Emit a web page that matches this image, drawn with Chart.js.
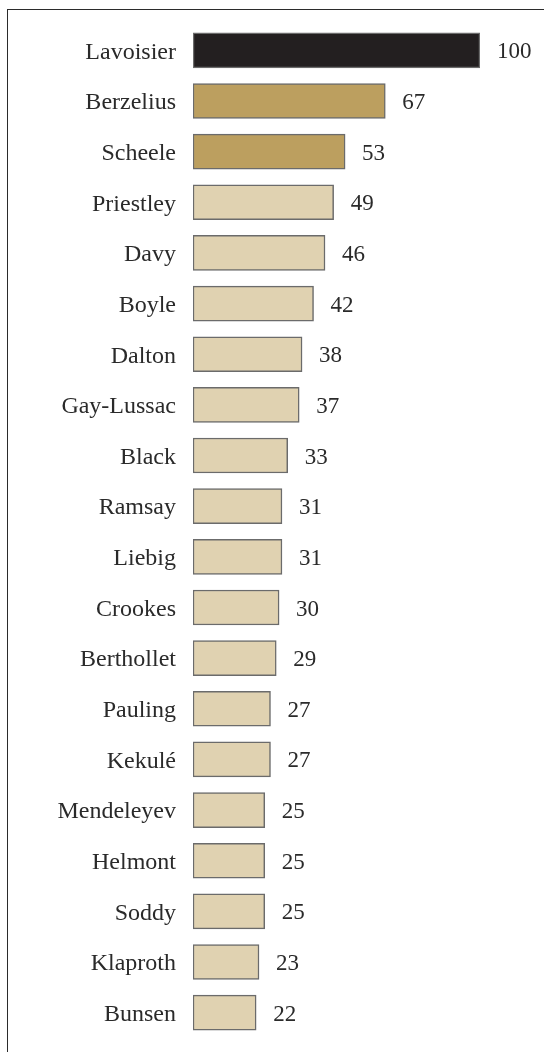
<!DOCTYPE html>
<html>
<head>
<meta charset="utf-8">
<script src="https://cdn.jsdelivr.net/npm/chart.js@4/dist/chart.umd.min.js"></script>
<style>
    html, body { margin: 0; padding: 0; background: #fff; overflow: hidden; }
    #frame {
        position: absolute;
        left: 7px;
        top: 9px;
        width: 600px;
        height: 1100px;
        border: 1.5px solid #2b2b2b;
    }
    #grafico { position: absolute; left: 0; top: 0; }
</style>
</head>
<body>
<div id="frame"></div>
<canvas id="grafico" width="544" height="1052"></canvas>
<script>
const quimicos = [
    "Lavoisier", "Berzelius", "Scheele", "Priestley", "Davy", "Boyle", "Dalton",
    "Gay-Lussac", "Black", "Ramsay", "Liebig", "Crookes", "Berthollet", "Pauling",
    "Kekulé", "Mendeleyev", "Helmont", "Soddy", "Klaproth", "Bunsen"
];
const pontuacao = [100, 67, 53, 49, 46, 42, 38, 37, 33, 31, 31, 30, 29, 27, 27, 25, 25, 25, 23, 22];

const COR_TOPO = "#231f20";
const COR_OURO = "#bc9f5f";
const COR_BEGE = "#e0d2b1";
const FONTE = "'Liberation Serif', 'DejaVu Serif', serif";

// primeiro lugar preto, 2o e 3o dourado, resto bege
const cores = pontuacao.map((v, i) => i === 0 ? COR_TOPO : (i < 3 ? COR_OURO : COR_BEGE));

// escreve o valor logo depois do fim de cada barra
const rotulosValores = {
    id: "rotulosValores",
    afterDatasetsDraw(chart) {
        const ctx = chart.ctx;
        const meta = chart.getDatasetMeta(0);
        ctx.save();
        ctx.font = `23px ${FONTE}`;
        ctx.fillStyle = "#2a2a2a";
        ctx.textAlign = "left";
        ctx.textBaseline = "middle";
        meta.data.forEach((bar, i) => {
            ctx.fillText(String(pontuacao[i]), bar.x + 17, bar.y + 2);
        });
        ctx.restore();
    }
};

const ctx = document.getElementById("grafico").getContext("2d");
new Chart(ctx, {
    type: "bar",
    data: {
        labels: quimicos,
        datasets: [{
            data: pontuacao,
            backgroundColor: cores,
            borderColor: "#6b6b6b",
            borderWidth: 1.5,
            borderSkipped: false,
            barThickness: 35
        }]
    },
    options: {
        indexAxis: "y",
        responsive: false,
        animation: false,
        layout: { padding: { top: 25, bottom: 14, left: 0, right: 64 } },
        plugins: {
            legend: { display: false },
            tooltip: { enabled: false }
        },
        scales: {
            x: {
                min: 0,
                max: 100,
                display: false
            },
            y: {
                afterFit(scale) {
                    // largura fixa do eixo e sem folga extra em cima/embaixo
                    scale.width = 193;
                    scale.paddingTop = 0;
                    scale.paddingBottom = 0;
                },
                grid: { display: false, drawTicks: false },
                border: { display: false },
                ticks: {
                    padding: 17,
                    labelOffset: 2,
                    color: "#2a2a2a",
                    font: { family: FONTE, size: 24 }
                }
            }
        }
    },
    plugins: [rotulosValores]
});
</script>
</body>
</html>
